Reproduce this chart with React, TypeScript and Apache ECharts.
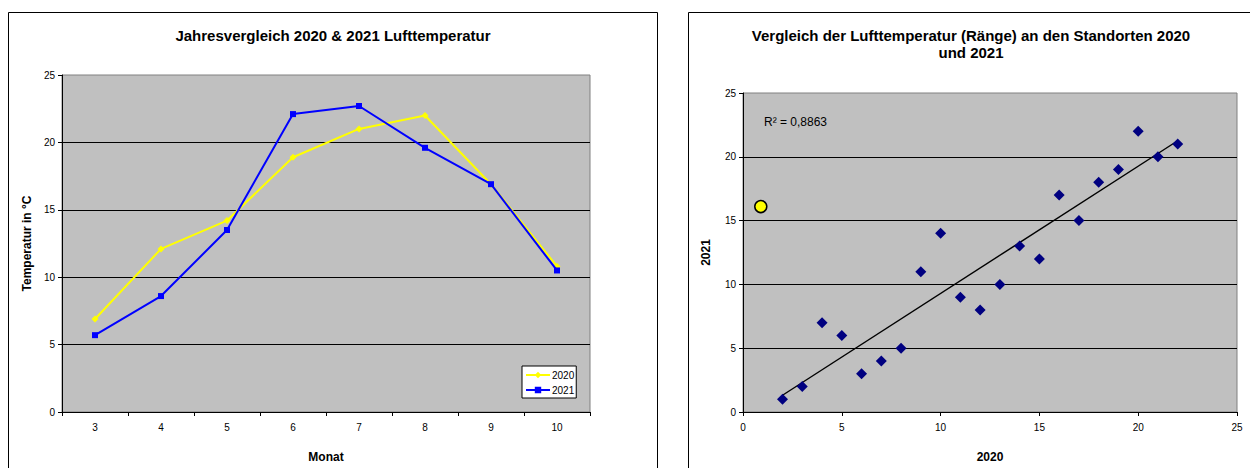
import React, { useEffect, useRef } from "react";
import * as echarts from "echarts";

const months = ["3", "4", "5", "6", "7", "8", "9", "10"];
const temp2020 = [6.9, 12.1, 14.2, 18.9, 21.0, 22.0, 16.9, 10.8];
const temp2021 = [5.7, 8.6, 13.5, 22.1, 22.7, 19.6, 16.9, 10.5];

const rank2020 = [2, 3, 4, 5, 6, 7, 8, 9, 10, 11, 12, 13, 14, 15, 16, 17, 18, 19, 20, 21, 22];
const rank2021 = [1, 2, 7, 6, 3, 4, 5, 11, 14, 9, 8, 10, 13, 12, 17, 15, 18, 19, 22, 20, 21];
const highlightPoint = [0.9, 16.1];
const r2Label = "R² = 0,8863";

const leftTitle = "Jahresvergleich 2020 & 2021 Lufttemperatur";
const rightTitle = "Vergleich der Lufttemperatur (Ränge) an den Standorten 2020\nund 2021";

const FONT = '"Liberation Sans", Arial, sans-serif';

function regression(xs: number[], ys: number[]) {
  const n = xs.length;
  const mx = xs.reduce((a, b) => a + b, 0) / n;
  const my = ys.reduce((a, b) => a + b, 0) / n;
  let sxy = 0;
  let sxx = 0;
  for (let i = 0; i < n; i++) {
    sxy += (xs[i] - mx) * (ys[i] - my);
    sxx += (xs[i] - mx) * (xs[i] - mx);
  }
  const b = sxy / sxx;
  const a = my - b * mx;
  return { a, b };
}

export default function App() {
  const ref = useRef<HTMLDivElement>(null);
  useEffect(() => {
    if (!ref.current) return;
    const chart = echarts.init(ref.current, undefined, { renderer: "svg" });
    const { a, b } = regression(rank2020, rank2021);
    const xMin = Math.min(...rank2020);
    const xMax = Math.max(...rank2020);
    const trend = [
      [xMin, a + b * xMin],
      [xMax, a + b * xMax],
    ];
    const axisLabel = { color: "#000", fontSize: 10, fontFamily: FONT };
    const nameStyle = { color: "#000", fontSize: 12, fontWeight: "bold" as const, fontFamily: FONT };
    const splitLine = {
      show: true,
      showMinLine: false,
      showMaxLine: false,
      lineStyle: { color: "#000", width: 1 },
    };
    chart.setOption({
      animation: false,
      backgroundColor: "#fff",
      textStyle: { fontFamily: FONT },
      graphic: [
        {
          type: "rect",
          z: 0,
          shape: { x: 8.5, y: 12.5, width: 649, height: 480 },
          style: { fill: "none", stroke: "#000", lineWidth: 1 },
        },
        {
          type: "rect",
          z: 0,
          shape: { x: 688.5, y: 12.5, width: 620, height: 480 },
          style: { fill: "none", stroke: "#000", lineWidth: 1 },
        },
        {
          type: "text",
          x: 333,
          y: 35,
          style: {
            text: leftTitle,
            textAlign: "center",
            textVerticalAlign: "middle",
            fontSize: 15,
            fontWeight: "bold",
            fontFamily: FONT,
            fill: "#000",
          },
        },
        {
          type: "text",
          x: 971,
          y: 44,
          style: {
            text: rightTitle,
            textAlign: "center",
            textVerticalAlign: "middle",
            fontSize: 15,
            fontWeight: "bold",
            fontFamily: FONT,
            fill: "#000",
            lineHeight: 17,
          },
        },
        {
          type: "text",
          x: 764,
          y: 122,
          z: 10,
          style: {
            text: r2Label,
            textVerticalAlign: "middle",
            fontSize: 12,
            fontFamily: FONT,
            fill: "#000",
          },
        },
      ],
      legend: {
        data: ["2020", "2021"],
        orient: "vertical",
        left: 522,
        top: 366,
        backgroundColor: "#fff",
        borderColor: "#000",
        borderWidth: 1,
        padding: [4, 2, 3, 3],
        itemGap: 5,
        itemWidth: 24,
        itemHeight: 8,
        textStyle: { color: "#000", fontSize: 10, fontFamily: FONT, padding: [0, 0, 0, -3] },
      },
      grid: [
        {
          left: 62,
          top: 75,
          width: 528,
          height: 342,
          show: true,
          backgroundColor: "#C0C0C0",
          borderColor: "#808080",
          borderWidth: 1,
        },
        {
          left: 743,
          top: 93,
          width: 494,
          height: 324,
          show: true,
          backgroundColor: "#C0C0C0",
          borderColor: "#808080",
          borderWidth: 1,
        },
      ],
      xAxis: [
        {
          gridIndex: 0,
          type: "category",
          data: months,
          boundaryGap: true,
          name: "Monat",
          nameLocation: "middle",
          nameGap: 39,
          nameTextStyle: nameStyle,
          axisLine: { lineStyle: { color: "#000", width: 1 } },
          axisTick: { show: true, length: 4, lineStyle: { color: "#000" } },
          axisLabel: { ...axisLabel, margin: 10 },
          splitLine: { show: false },
        },
        {
          gridIndex: 1,
          type: "value",
          min: 0,
          max: 25,
          interval: 5,
          name: "2020",
          nameLocation: "middle",
          nameGap: 39,
          nameTextStyle: nameStyle,
          axisLine: { lineStyle: { color: "#000", width: 1 } },
          axisTick: { show: true, length: 4, lineStyle: { color: "#000" } },
          axisLabel: { ...axisLabel, margin: 10 },
          splitLine: { show: false },
        },
      ],
      yAxis: [
        {
          gridIndex: 0,
          type: "value",
          min: 0,
          max: 25,
          interval: 5,
          name: "Temperatur in °C",
          nameLocation: "middle",
          nameGap: 29,
          nameTextStyle: nameStyle,
          axisLine: { show: true, lineStyle: { color: "#000", width: 1 } },
          axisTick: { show: true, length: 4, lineStyle: { color: "#000" } },
          axisLabel: { ...axisLabel, margin: 7 },
          splitLine,
        },
        {
          gridIndex: 1,
          type: "value",
          min: 0,
          max: 25,
          interval: 5,
          name: "2021",
          nameLocation: "middle",
          nameGap: 31,
          nameTextStyle: nameStyle,
          axisLine: { show: true, lineStyle: { color: "#000", width: 1 } },
          axisTick: { show: true, length: 4, lineStyle: { color: "#000" } },
          axisLabel: { ...axisLabel, margin: 7 },
          splitLine,
        },
      ],
      series: [
        {
          name: "2020",
          type: "line",
          xAxisIndex: 0,
          yAxisIndex: 0,
          data: temp2020,
          color: "#FFFF00",
          symbol: "diamond",
          symbolSize: 7,
          lineStyle: { color: "#FFFF00", width: 2 },
          itemStyle: { color: "#FFFF00" },
          z: 3,
        },
        {
          name: "2021",
          type: "line",
          xAxisIndex: 0,
          yAxisIndex: 0,
          data: temp2021,
          color: "#0000FF",
          symbol: "rect",
          symbolSize: 6,
          lineStyle: { color: "#0000FF", width: 2 },
          itemStyle: { color: "#0000FF" },
          z: 4,
        },
        {
          name: "Trend",
          type: "line",
          xAxisIndex: 1,
          yAxisIndex: 1,
          data: trend,
          showSymbol: false,
          symbol: "none",
          lineStyle: { color: "#000", width: 1.4 },
          z: 3,
        },
        {
          name: "Ränge",
          type: "scatter",
          xAxisIndex: 1,
          yAxisIndex: 1,
          data: rank2020.map((x, i) => [x, rank2021[i]]),
          symbol: "diamond",
          symbolSize: 11,
          itemStyle: { color: "#000080", opacity: 1 },
          z: 4,
        },
        {
          name: "Markiert",
          type: "scatter",
          xAxisIndex: 1,
          yAxisIndex: 1,
          data: [highlightPoint],
          symbol: "circle",
          symbolSize: 12,
          itemStyle: { color: "#FFFF00", borderColor: "#000", borderWidth: 1.5, opacity: 1 },
          z: 5,
        },
      ],
    });
    return () => chart.dispose();
  }, []);
  return (
    <div
      ref={ref}
      style={{ position: "fixed", left: 0, top: 0, width: 1250, height: 468 }}
    />
  );
}
